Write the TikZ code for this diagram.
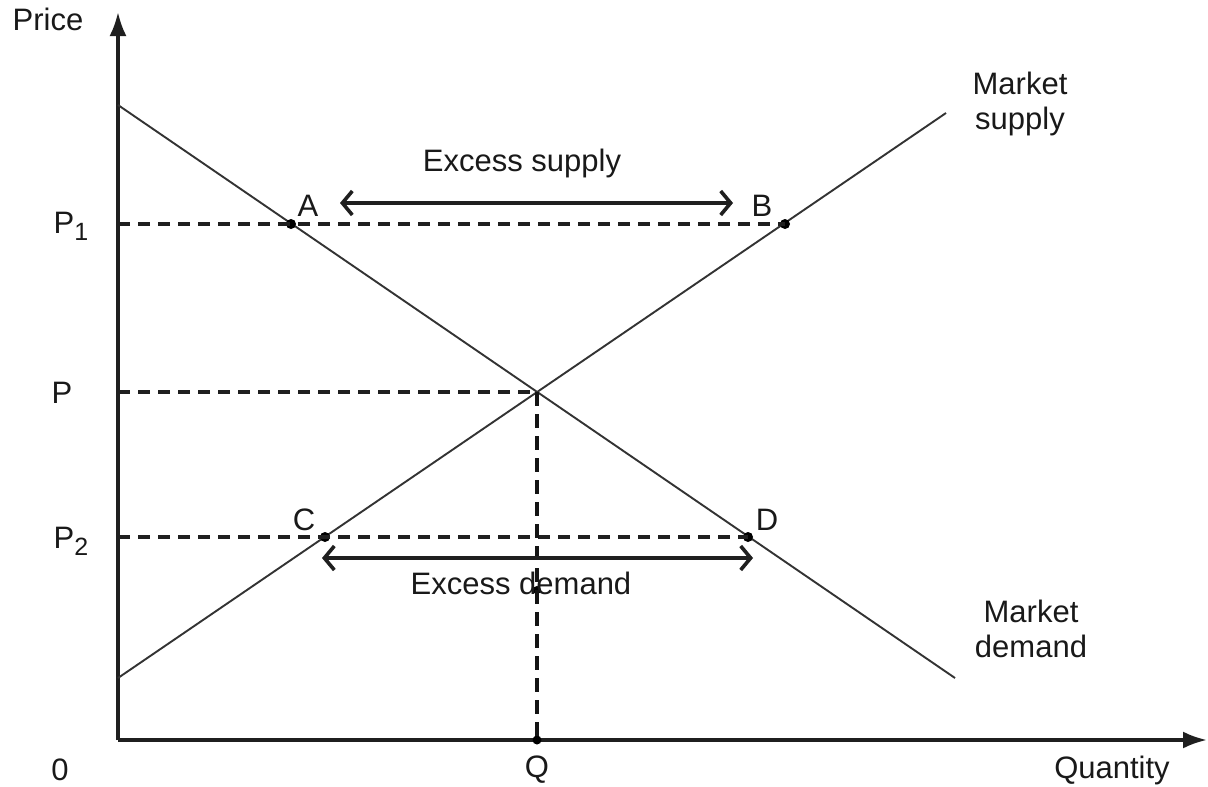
\documentclass[tikz,border=0pt]{standalone}
\usepackage{fontspec}
\setmainfont{Liberation Sans}
\usetikzlibrary{arrows.meta}
\begin{document}
\begin{tikzpicture}[x=1pt,y=-1pt,
  lbl/.style={inner sep=0pt,font=\fontsize{31}{35}\selectfont,text=black!90},
  axis/.style={line width=3.4pt,draw=black!88,-{Latex[length=24pt,width=17pt]}},
  curve/.style={line width=1.9pt,draw=black!80},
  guide/.style={line width=3.4pt,draw=black!88,dash pattern=on 12pt off 8pt},
  vguide/.style={line width=4.4pt,draw=black!92,dash pattern=on 14pt off 8pt},
  gap/.style={line width=4.6pt,draw=black!88,{Straight Barb[length=10pt,width=24pt,line width=3.6pt]}-{Straight Barb[length=10pt,width=24pt,line width=3.6pt]}},
  pt/.style={circle,fill=black,inner sep=0pt,minimum size=10pt}]
\useasboundingbox (0,0) rectangle (1208,787);
% axes
\coordinate (O) at (118,740);
\coordinate (Ytop) at (118,12);
\coordinate (Xend) at (1207,740);
\draw[axis] (O) -- (Ytop);
\draw[axis] (O) -- (Xend);
% curves
\coordinate (d0) at (118,105);
\coordinate (d1) at (955,678);
\coordinate (s0) at (118,678);
\coordinate (s1) at (946,113);
\draw[curve] (d0) -- (d1);
\draw[curve] (s0) -- (s1);
% key points
\coordinate (yP1) at (118,224);
\coordinate (yP) at (118,392);
\coordinate (yP2) at (118,537);
\node[pt] (A) at (291,224) {};
\node[pt] (B) at (785,224) {};
\node[pt] (C) at (325,537) {};
\node[pt] (D) at (748,537) {};
\coordinate (E) at (537,392);
\node[pt,minimum size=9pt] (Q) at (537,740) {};
\node[pt,minimum size=8pt] (m) at (537,590) {};
% guides
\draw[guide] (yP1) -- (B.center);
\draw[guide] (yP) -- (E);
\draw[guide] (yP2) -- (D.center);
\draw[vguide] (E) -- (Q.center);
% gap arrows
\coordinate (es0) at (340,203);
\coordinate (es1) at (733,203);
\coordinate (ed0) at (322,558);
\coordinate (ed1) at (753,558);
\draw[gap] (es0) -- (es1);
\draw[gap] (ed0) -- (ed1);
% labels
\node[lbl] (tPrice) at (48,19) {Price};
\node[lbl] (tP1) at (71,226) {P\raisebox{-0.22em}{\fontsize{25}{25}\selectfont 1}};
\node[lbl] (tP) at (62,393) {P};
\node[lbl] (tP2) at (71,541) {P\raisebox{-0.22em}{\fontsize{25}{25}\selectfont 2}};
\node[lbl] (t0) at (60,770) {0};
\node[lbl] (tQ) at (537,770) {Q};
\node[lbl] (tQty) at (1112,770) {Quantity};
\node[lbl] (tA) at (308,206) {A};
\node[lbl] (tB) at (762,206) {B};
\node[lbl] (tC) at (304,520) {C};
\node[lbl] (tD) at (767,520) {D};
\node[lbl,align=center] (tMS) at (1020,104) {Market\\supply};
\node[lbl,align=center] (tMD) at (1031,629) {Market\\demand};
\node[lbl] (tES) at (522,163) {Excess supply};
\node[lbl] (tED) at (521,583) {Excess demand};
\end{tikzpicture}
\end{document}
